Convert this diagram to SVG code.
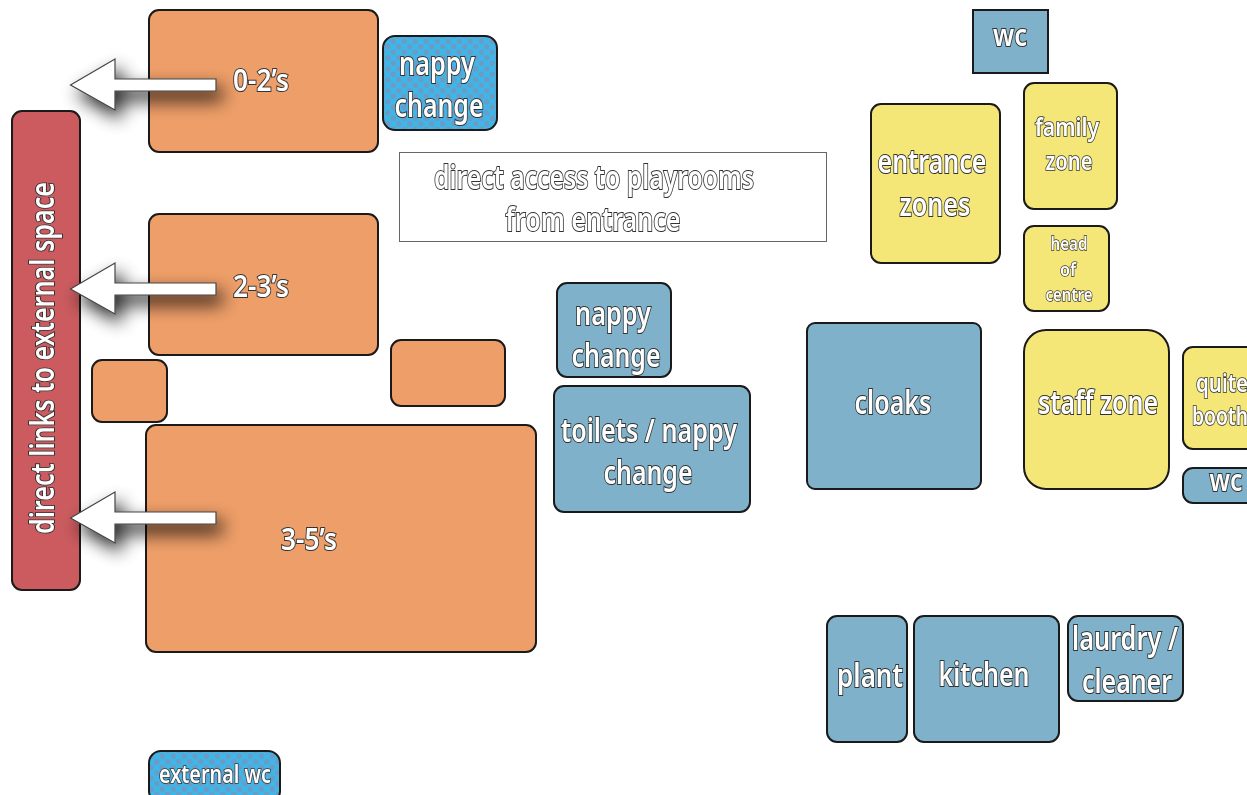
<svg xmlns="http://www.w3.org/2000/svg" width="1247" height="795" viewBox="0 0 1247 795">
<style>
.n{stroke:#1a1a1a;stroke-width:2}
.o{fill:#ee9e68}.b{fill:#7fb2ca}.y{fill:#f5e777}.r{fill:#cb5b5f}
.t{font-family:"Noto Sans","Liberation Sans",sans-serif;font-weight:600;fill:#fff;stroke:#333;stroke-width:2;paint-order:stroke;text-anchor:middle;opacity:.995}
.a{fill:#fff;stroke:#444;stroke-width:1.2}
</style>
<defs>
<pattern id="dots" width="11" height="11" patternUnits="userSpaceOnUse">
<rect width="11" height="11" fill="#3db7e8"/>
<circle cx="2.75" cy="2.75" r="2.8" fill="#6b9bc6"/>
<circle cx="8.25" cy="8.25" r="2.8" fill="#6b9bc6"/>
</pattern>
<filter id="sh" x="-40%" y="-80%" width="190%" height="300%">
<feGaussianBlur in="SourceAlpha" stdDeviation="9"/>
<feOffset dx="6" dy="9"/>
<feComponentTransfer><feFuncA type="linear" slope="0.85"/></feComponentTransfer>
<feMerge><feMergeNode/><feMergeNode in="SourceGraphic"/></feMerge>
</filter>
</defs>
<rect width="1247" height="795" fill="#fff"/>
<g id="red-external"><rect class="n r" x="12" y="111" width="68" height="479" rx="10"/><text class="t" transform="translate(54,358) rotate(-90)" font-size="32" textLength="352" lengthAdjust="spacingAndGlyphs">direct links to external space</text></g>
<g id="room-0-2"><rect class="n o" x="149" y="10" width="229" height="142" rx="10"/><text class="t" x="261" y="91" font-size="30" textLength="56" lengthAdjust="spacingAndGlyphs">0-2’s</text></g>
<g id="room-2-3"><rect class="n o" x="149" y="214" width="229" height="141" rx="10"/><text class="t" x="261" y="297" font-size="30" textLength="56" lengthAdjust="spacingAndGlyphs">2-3’s</text></g>
<g id="room-3-5"><rect class="n o" x="146" y="425" width="390" height="227" rx="10"/><text class="t" x="309" y="550" font-size="30" textLength="56" lengthAdjust="spacingAndGlyphs">3-5’s</text></g>
<g id="orange-small-a"><rect class="n o" x="391" y="340" width="114" height="66" rx="10"/></g>
<g id="orange-small-b"><rect class="n o" x="92" y="360" width="75" height="62" rx="10"/></g>
<g id="nappy-a"><rect class="n" fill="url(#dots)" x="383" y="36" width="114" height="94" rx="12"/><text class="t" x="437" y="75" font-size="32" textLength="76" lengthAdjust="spacingAndGlyphs">nappy</text><text class="t" x="439" y="117" font-size="32" textLength="89" lengthAdjust="spacingAndGlyphs">change</text></g>
<g id="access-note"><rect x="399.500" y="152.500" width="427" height="89" fill="#fff" stroke="#666" stroke-width="1"/><text class="t" x="594" y="189" font-size="32" textLength="320" lengthAdjust="spacingAndGlyphs">direct access to playrooms</text><text class="t" x="593" y="231" font-size="32" textLength="175" lengthAdjust="spacingAndGlyphs">from entrance</text></g>
<g id="wc-top"><rect x="973" y="10" width="75" height="63" fill="#7fb2ca" stroke="#1a1a1a" stroke-width="2"/><text class="t" x="1010" y="46" font-size="30" textLength="34" lengthAdjust="spacingAndGlyphs">wc</text></g>
<g id="entrance"><rect class="n y" x="871" y="104" width="129" height="159" rx="10"/><text class="t" x="932" y="173" font-size="32" textLength="109" lengthAdjust="spacingAndGlyphs">entrance</text><text class="t" x="935" y="216" font-size="32" textLength="71" lengthAdjust="spacingAndGlyphs">zones</text></g>
<g id="family"><rect class="n y" x="1024" y="83" width="93" height="126" rx="10"/><text class="t" x="1067" y="136" font-size="26" textLength="64" lengthAdjust="spacingAndGlyphs" style="stroke-width:1.7">family</text><text class="t" x="1069" y="170" font-size="26" textLength="47" lengthAdjust="spacingAndGlyphs" style="stroke-width:1.7">zone</text></g>
<g id="head"><rect class="n y" x="1024" y="226" width="85" height="85" rx="10"/><text class="t" x="1069" y="250" font-size="18" textLength="37" lengthAdjust="spacingAndGlyphs" style="stroke-width:1.4">head</text><text class="t" x="1068" y="276" font-size="18" textLength="16" lengthAdjust="spacingAndGlyphs" style="stroke-width:1.4">of</text><text class="t" x="1069" y="301" font-size="18" textLength="47" lengthAdjust="spacingAndGlyphs" style="stroke-width:1.4">centre</text></g>
<g id="staff"><rect class="n y" x="1024" y="330" width="145" height="159" rx="22"/><text class="t" x="1098" y="414" font-size="32" textLength="120" lengthAdjust="spacingAndGlyphs">staff zone</text></g>
<g id="quite"><rect class="n y" x="1183" y="347" width="80" height="102" rx="10"/><text class="t" x="1222" y="392" font-size="25" textLength="52" lengthAdjust="spacingAndGlyphs" style="stroke-width:1.7">quite</text><text class="t" x="1220" y="425" font-size="25" textLength="56" lengthAdjust="spacingAndGlyphs" style="stroke-width:1.7">booth</text></g>
<g id="wc-right"><rect class="n b" x="1183" y="468" width="80" height="35" rx="10"/><text class="t" x="1226" y="491" font-size="30" textLength="33" lengthAdjust="spacingAndGlyphs">wc</text></g>
<g id="cloaks"><rect class="n b" x="807" y="323" width="174" height="166" rx="8"/><text class="t" x="893" y="414" font-size="32" textLength="77" lengthAdjust="spacingAndGlyphs">cloaks</text></g>
<g id="nappy-b"><rect class="n b" x="557" y="283" width="114" height="94" rx="10"/><text class="t" x="613" y="325" font-size="32" textLength="76" lengthAdjust="spacingAndGlyphs">nappy</text><text class="t" x="616" y="367" font-size="32" textLength="89" lengthAdjust="spacingAndGlyphs">change</text></g>
<g id="toilets"><rect class="n b" x="554" y="386" width="196" height="126" rx="10"/><text class="t" x="649" y="442" font-size="32" textLength="176" lengthAdjust="spacingAndGlyphs">toilets / nappy</text><text class="t" x="648" y="484" font-size="32" textLength="89" lengthAdjust="spacingAndGlyphs">change</text></g>
<g id="plant"><rect class="n b" x="827" y="616" width="80" height="126" rx="10"/><text class="t" x="870" y="687" font-size="32" textLength="66" lengthAdjust="spacingAndGlyphs">plant</text></g>
<g id="kitchen"><rect class="n b" x="914" y="616" width="145" height="126" rx="10"/><text class="t" x="984" y="686" font-size="32" textLength="91" lengthAdjust="spacingAndGlyphs">kitchen</text></g>
<g id="laundry"><rect class="n b" x="1068" y="616" width="115" height="85" rx="10"/><text class="t" x="1125" y="650" font-size="32" textLength="106" lengthAdjust="spacingAndGlyphs">laurdry /</text><text class="t" x="1127" y="693" font-size="32" textLength="90" lengthAdjust="spacingAndGlyphs">cleaner</text></g>
<g id="external-wc"><rect class="n" fill="url(#dots)" x="149" y="751" width="131" height="52" rx="12"/><text class="t" x="215" y="783" font-size="25" textLength="112" lengthAdjust="spacingAndGlyphs" style="stroke-width:1.7">external wc</text></g>
<g id="connectors">
<polygon class="a" filter="url(#sh)" points="70.500,85 115,59 115,79 216,79 216,91 115,91 115,110"/>
<polygon class="a" filter="url(#sh)" points="70.500,289 115,263 115,283 216,283 216,295 115,295 115,314"/>
<polygon class="a" filter="url(#sh)" points="70.500,518 115,492 115,512 216,512 216,524 115,524 115,543"/>
</g>
</svg>
